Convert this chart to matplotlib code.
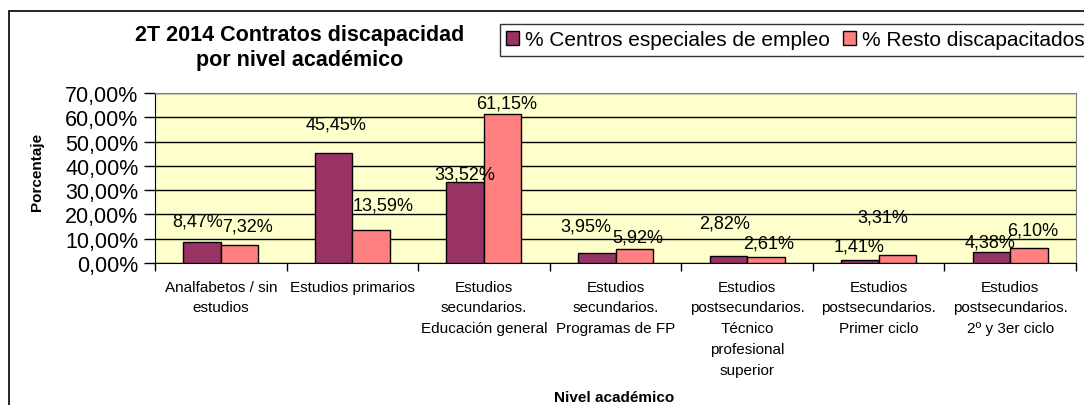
import numpy as np
import matplotlib
matplotlib.use("Agg")
import matplotlib.pyplot as plt
from matplotlib.ticker import FuncFormatter, MultipleLocator
from matplotlib.patches import Rectangle

plt.rcParams['font.family'] = ['Liberation Sans', 'DejaVu Sans']

categories = [
    "Analfabetos / sin\nestudios",
    "Estudios primarios",
    "Estudios\nsecundarios.\nEducación general",
    "Estudios\nsecundarios.\nProgramas de FP",
    "Estudios\npostsecundarios.\nTécnico\nprofesional\nsuperior",
    "Estudios\npostsecundarios.\nPrimer ciclo",
    "Estudios\npostsecundarios.\n2º y 3er ciclo",
]
centros = [8.47, 45.45, 33.52, 3.95, 2.82, 1.41, 4.38]
resto = [7.32, 13.59, 61.15, 5.92, 2.61, 3.31, 6.10]
series_names = ["% Centros especiales de empleo", "% Resto discapacitados"]

# label nudges (pixels) relative to the top centre of each bar, as Excel left them
centros_offsets = [(-4, 21), (2, 29), (0, 8), (-11, 27), (-4, 33), (-1, 14), (-1, 10)]
resto_offsets = [(8, 19), (12, 25), (4, 11), (4, 12), (3, 14), (-15, 38), (4, 18)]

purple = "#993366"
pink = "#FF8080"

W, H = 1084, 406
fig = plt.figure(figsize=(W / 100, H / 100), dpi=100)
ax = fig.add_axes([155 / W, (H - 264) / H, 921 / W, 170 / H])
ax.set_facecolor("#FFFFCC")

x = np.arange(len(categories))
bw = 0.285
b1 = ax.bar(x - bw / 2, centros, bw, color=purple, edgecolor="black", linewidth=1, zorder=3,
            label=series_names[0])
b2 = ax.bar(x + bw / 2, resto, bw, color=pink, edgecolor="black", linewidth=1, zorder=3,
            label=series_names[1])


def pct(v):
    return f"{v:.2f}".replace(".", ",") + "%"


for bars, vals, offs in [(b1, centros, centros_offsets), (b2, resto, resto_offsets)]:
    for rect, v, (dx, dy) in zip(bars, vals, offs):
        ax.annotate(pct(v), (rect.get_x() + rect.get_width() / 2, v),
                    xytext=(dx, dy), textcoords="offset pixels",
                    ha="center", va="center", fontsize=13, zorder=4)

ax.set_xlim(-0.5, len(categories) - 0.5)
ax.set_ylim(0, 70)
ax.yaxis.set_major_locator(MultipleLocator(10))
ax.yaxis.set_major_formatter(FuncFormatter(lambda v, p: pct(v)))
ax.grid(axis="y", color="black", linewidth=1, zorder=1)
ax.tick_params(axis="y", labelsize=15.5, length=8, width=1, pad=4, direction="out")

# category boundary ticks and labels
ax.set_xticks(np.arange(len(categories) + 1) - 0.5)
ax.set_xticklabels([])
ax.set_xticks(x, minor=True)
ax.set_xticklabels(categories, minor=True, fontsize=11, linespacing=1.62, va="top")
ax.tick_params(axis="x", which="major", length=6, width=1, direction="out")
ax.tick_params(axis="x", which="minor", length=0, pad=12)

for side in ["top", "right"]:
    ax.spines[side].set_color("#808080")
ax.spines["left"].set_color("black")
ax.spines["bottom"].set_color("black")

fig.text(37 / W, 1 - 172 / H, "Porcentaje", rotation=90, ha="center", va="center",
         fontsize=11, fontweight="bold")
fig.text(614 / W, 1 - 398 / H, "Nivel académico", ha="center", va="center",
         fontsize=11, fontweight="bold")
fig.text(300 / W, 1 - 48 / H, "2T 2014 Contratos discapacidad\npor nivel académico",
         ha="center", va="center", fontsize=15.5, fontweight="bold", linespacing=1.3)

leg = fig.legend(handles=[b1, b2], loc="upper left", bbox_to_anchor=(500 / W, 1 - 25 / H),
                 ncol=2, fontsize=15, frameon=True, fancybox=False, edgecolor="black",
                 handlelength=0.6, handleheight=0.6, handletextpad=0.3, columnspacing=0.65,
                 borderpad=0.3, borderaxespad=0)
leg.get_frame().set_linewidth(1)

# outer chart area border (cut off at right and bottom in the original)
fig.patches.append(Rectangle((9 / W, -0.1), 1.2, 1 - 12 / H + 0.1, transform=fig.transFigure,
                             fill=False, edgecolor="black", linewidth=1.2))

fig.savefig("out.png", dpi=100)
